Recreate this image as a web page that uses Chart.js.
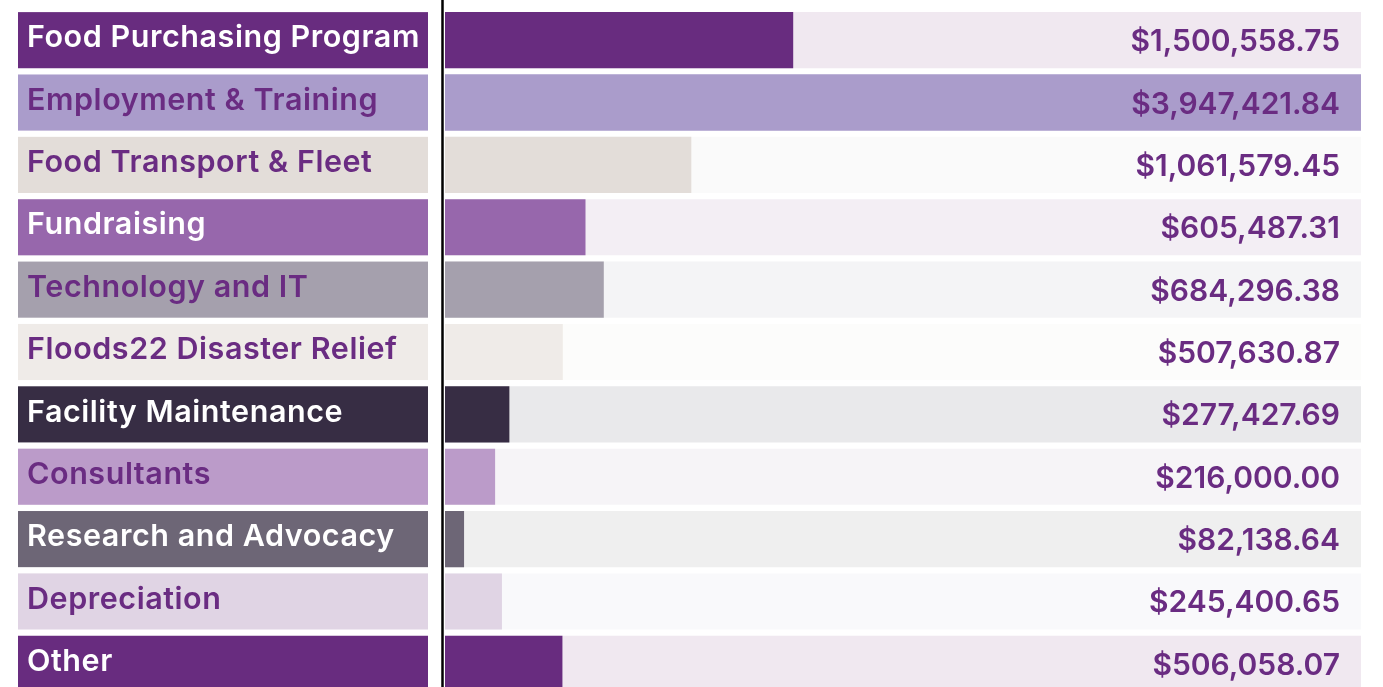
<!DOCTYPE html>
<html>
<head>
<meta charset="utf-8">
<script src="https://cdn.jsdelivr.net/npm/chart.js@4.4.1/dist/chart.umd.min.js"></script>
<style>
  html, body { margin: 0; padding: 0; background: #ffffff; overflow: hidden; }
  #wrap { width: 1383px; height: 687px; overflow: hidden; }
  canvas { display: block; }
</style>
</head>
<body>
<div id="wrap"><canvas id="expenseChart" width="1383" height="695"></canvas></div>
<script>
const categories = [
  'Food Purchasing Program', 'Employment & Training', 'Food Transport & Fleet',
  'Fundraising', 'Technology and IT', 'Floods22 Disaster Relief',
  'Facility Maintenance', 'Consultants', 'Research and Advocacy',
  'Depreciation', 'Other'
];
const amounts = [
  1500558.75, 3947421.84, 1061579.45, 605487.31, 684296.38, 507630.87,
  277427.69, 216000.00, 82138.64, 245400.65, 506058.07
];
const barColors = [
  '#682c7f', '#aa9ccb', '#e3ddd9', '#9767ac', '#a5a0ad', '#efebe8',
  '#372d44', '#bb9bc9', '#6d6676', '#e0d4e4', '#682c7f'
];
const trackColors = [
  '#f0e8f0', '#aa9ccb', '#fafafa', '#f3eef4', '#f4f4f6', '#fcfcfb',
  '#e9e9eb', '#f6f4f7', '#efefef', '#f9f9fb', '#f0e8f0'
];
const labelTextColors = [
  '#ffffff', '#6a2c82', '#6a2c82', '#ffffff', '#6a2c82', '#6a2c82',
  '#ffffff', '#6a2c82', '#ffffff', '#6a2c82', '#ffffff'
];

const maxAmount = Math.max(...amounts);
const purple = '#6a2c82';

function money(v) {
  return '$' + v.toLocaleString('en-US', { minimumFractionDigits: 2, maximumFractionDigits: 2 });
}

// label boxes on the left, divider line, and value text
const decorations = {
  id: 'decorations',
  afterDatasetsDraw(chart) {
    const { ctx, chartArea, scales } = chart;
    const y = scales.y;
    const rowH = (chartArea.bottom - chartArea.top) / categories.length;
    const boxH = rowH * 0.9;
    ctx.save();
    categories.forEach((name, i) => {
      const cy = y.getPixelForValue(i);
      ctx.fillStyle = barColors[i];
      ctx.fillRect(18, cy - boxH / 2, 410, boxH);
      ctx.fillStyle = labelTextColors[i];
      ctx.font = '600 30.5px Inter';
      ctx.letterSpacing = '0.55px';
      ctx.textAlign = 'left';
      ctx.textBaseline = 'middle';
      ctx.fillText(name, 27, cy - 2);

      ctx.fillStyle = purple;
      ctx.font = '600 30px Inter';
      ctx.letterSpacing = '0px';
      ctx.textAlign = 'right';
      ctx.fillText(money(amounts[i]), chartArea.right - 21, cy + 2);
    });
    ctx.strokeStyle = '#000000';
    ctx.lineWidth = 2.5;
    ctx.beginPath();
    ctx.moveTo(chartArea.left - 2.5, 0);
    ctx.lineTo(chartArea.left - 2.5, chart.height);
    ctx.stroke();
    ctx.restore();
  }
};

const ctx = document.getElementById('expenseChart').getContext('2d');
new Chart(ctx, {
  type: 'bar',
  data: {
    labels: categories,
    datasets: [
      {
        label: 'Amount',
        data: amounts,
        backgroundColor: barColors,
        barPercentage: 0.9,
        categoryPercentage: 1.0,
        grouped: false,
        order: 1
      },
      {
        label: 'Track',
        data: categories.map(() => maxAmount),
        backgroundColor: trackColors,
        barPercentage: 0.9,
        categoryPercentage: 1.0,
        grouped: false,
        order: 2
      }
    ]
  },
  options: {
    indexAxis: 'y',
    responsive: false,
    animation: false,
    layout: { padding: { left: 445, right: 22, top: 9, bottom: 0 } },
    plugins: {
      legend: { display: false },
      tooltip: { enabled: false }
    },
    scales: {
      x: { display: false, min: 0, max: maxAmount },
      y: { display: false }
    }
  },
  plugins: [decorations]
});
</script>
</body>
</html>
